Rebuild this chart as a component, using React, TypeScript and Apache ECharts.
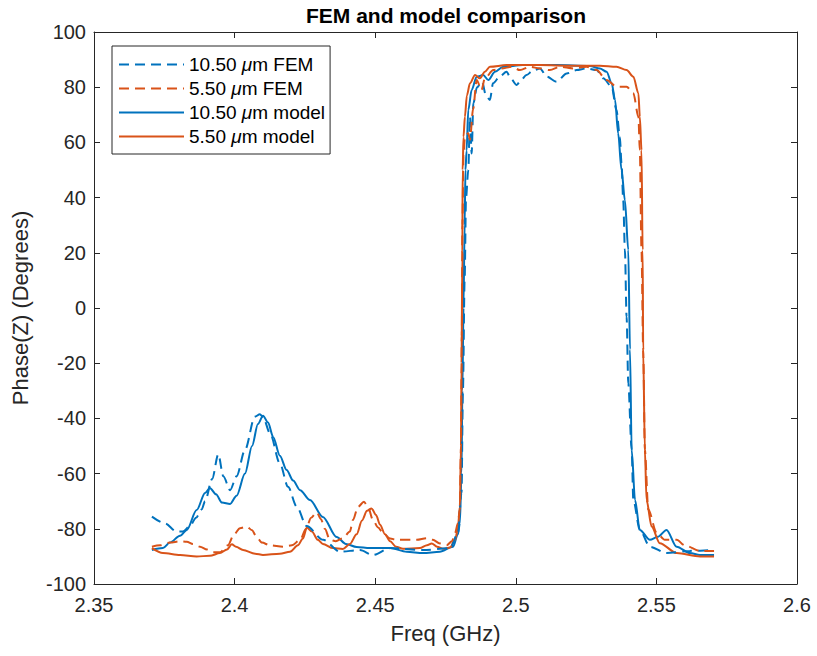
import React, { useEffect, useRef } from "react";
import * as echarts from "echarts";

const seriesNames = ["10.50 μm FEM", "5.50 μm FEM", "10.50 μm model", "5.50 μm model"];

const fem105Freq = [2.3706, 2.3752, 2.3794, 2.3816, 2.3841, 2.3863, 2.3883, 2.3895, 2.392, 2.3942, 2.396, 2.3984, 2.4007, 2.4037, 2.4072, 2.409, 2.4101, 2.4126, 2.4161, 2.419, 2.4221, 2.4256, 2.4315, 2.4375, 2.4446, 2.4492, 2.4553, 2.467, 2.4766, 2.4794, 2.4807, 2.4812, 2.4818, 2.4823, 2.4831, 2.4837, 2.4843, 2.4849, 2.4862, 2.488, 2.4894, 2.4908, 2.4919, 2.4944, 2.4967, 2.4983, 2.5003, 2.5018, 2.5038, 2.5061, 2.5086, 2.511, 2.5145, 2.5181, 2.5216, 2.5252, 2.5287, 2.5311, 2.5341, 2.5358, 2.537, 2.5376, 2.5382, 2.5388, 2.5394, 2.54, 2.5412, 2.5418, 2.5441, 2.5477, 2.5536, 2.5619, 2.5705];
const fem105Phase = [-75.6, -78, -81, -81, -79, -76, -73, -70, -62, -53, -61, -66, -61, -51.4, -39.4, -38.5, -39.5, -45.4, -56.3, -64.8, -72, -79, -84, -88.3, -87.7, -89.5, -87, -87.7, -87, -81.7, -67, -30, 10, 40, 50, 69.3, 56, 74.2, 80, 82, 77, 75.4, 81.4, 84, 85.6, 83, 80.8, 82.5, 84.4, 86, 86.8, 83.8, 82, 85, 86.2, 86.8, 86.2, 83.2, 80.2, 71.7, 62, 52.4, 39, 21, -3.2, -27.3, -51.4, -69.6, -80.4, -86.5, -88.8, -88, -87.7];

const fem55Freq = [2.3706, 2.3735, 2.377, 2.3806, 2.383, 2.3852, 2.3877, 2.3902, 2.3924, 2.3948, 2.3976, 2.3998, 2.4019, 2.4043, 2.4062, 2.4078, 2.4097, 2.4126, 2.4172, 2.4204, 2.4233, 2.4254, 2.4272, 2.4292, 2.4307, 2.4321, 2.4339, 2.436, 2.4385, 2.441, 2.4421, 2.4439, 2.446, 2.4474, 2.4492, 2.451, 2.4528, 2.4553, 2.4576, 2.4648, 2.4683, 2.4705, 2.473, 2.4754, 2.4773, 2.4784, 2.4794, 2.4801, 2.4805, 2.4808, 2.481, 2.4814, 2.4819, 2.4831, 2.4837, 2.4848, 2.4861, 2.4878, 2.489, 2.492, 2.495, 2.4985, 2.5015, 2.505, 2.5086, 2.5121, 2.5157, 2.5204, 2.5252, 2.5287, 2.5323, 2.5358, 2.5394, 2.5418, 2.5436, 2.5441, 2.5447, 2.5453, 2.5459, 2.5471, 2.5501, 2.553, 2.5572, 2.5601, 2.5655, 2.5705];
const fem55Phase = [-86.5, -86, -85, -84.5, -84.7, -85.5, -86.5, -87.5, -88.5, -88.5, -86, -82, -79.8, -79.2, -80.5, -82.9, -85, -86, -86.5, -86, -84, -80, -76, -74, -76.5, -80, -84, -84.5, -83.4, -81, -76.8, -72, -70.2, -72, -76.8, -79.5, -81.6, -83.5, -84, -84, -83.4, -84, -85.3, -86, -84.5, -81.6, -78, -73, -50, -10, 30, 55, 62, 63.3, 61, 72, 82.6, 79, 83.2, 86.2, 86.8, 87.4, 86.2, 87.4, 86.8, 86.2, 87.4, 86.8, 87.4, 86.2, 82.6, 80.2, 80.2, 77.8, 69.3, 57.2, 21, -15, -51.4, -73, -81.5, -84, -84, -86, -88, -88];

const model105Freq = [2.3706, 2.3745, 2.377, 2.3806, 2.383, 2.3865, 2.3895, 2.3912, 2.3934, 2.3955, 2.3984, 2.4007, 2.4037, 2.4062, 2.4083, 2.4101, 2.4119, 2.4137, 2.4161, 2.4185, 2.4208, 2.4233, 2.4268, 2.4314, 2.4363, 2.4396, 2.4434, 2.4481, 2.4553, 2.4612, 2.467, 2.473, 2.4777, 2.4794, 2.4801, 2.4807, 2.481, 2.4814, 2.4818, 2.4821, 2.4825, 2.4831, 2.4843, 2.4861, 2.4884, 2.4902, 2.4926, 2.4955, 2.5025, 2.5145, 2.5264, 2.5299, 2.5323, 2.5341, 2.5353, 2.5364, 2.5376, 2.5388, 2.54, 2.5406, 2.5412, 2.5424, 2.5441, 2.5477, 2.5505, 2.5536, 2.5572, 2.5619, 2.5655, 2.5705];
const model105Phase = [-87.7, -87, -85, -82.5, -80.4, -73.2, -67, -65.2, -67.5, -70.5, -71, -68, -60, -50, -42, -39, -41.5, -46.7, -53.5, -58.7, -62.5, -66, -69.6, -75.7, -83, -85.5, -86.6, -87, -87, -88.3, -88.8, -88.3, -86.5, -82, -78, -60, -30, 0, 30, 50, 57, 71.7, 79, 83.8, 84.4, 82.6, 85.6, 87.4, 88, 88, 87.7, 86.8, 85.6, 81.4, 75.4, 63.3, 50, 39, 21, -15, -51.4, -69.6, -80.4, -84, -82.9, -80.4, -86.5, -88.8, -89.5, -89.5];

const model55Freq = [2.3706, 2.3745, 2.3806, 2.3865, 2.3912, 2.3948, 2.3973, 2.399, 2.4005, 2.403, 2.4073, 2.4101, 2.4161, 2.4197, 2.4225, 2.4243, 2.4257, 2.4275, 2.4296, 2.4314, 2.435, 2.4385, 2.441, 2.4434, 2.4453, 2.4471, 2.4487, 2.4503, 2.4517, 2.4535, 2.4553, 2.4574, 2.4599, 2.4659, 2.4684, 2.4701, 2.472, 2.4741, 2.4766, 2.4784, 2.4794, 2.4801, 2.4805, 2.4807, 2.481, 2.4811, 2.4814, 2.4819, 2.4826, 2.4837, 2.4855, 2.4872, 2.489, 2.4908, 2.4967, 2.5086, 2.5203, 2.5299, 2.5358, 2.5394, 2.5418, 2.5436, 2.5441, 2.5447, 2.5451, 2.5453, 2.5459, 2.5465, 2.5483, 2.5512, 2.5572, 2.5655, 2.5705];
const model55Phase = [-87, -88.8, -89.5, -90, -89.8, -88.8, -87.5, -85.6, -86.5, -87.7, -89, -89.5, -89, -88.3, -86, -83.5, -79.5, -81, -84, -85.5, -87, -87.3, -85.5, -82, -77, -73.5, -72.6, -75, -78.5, -82, -84.5, -86.5, -87.2, -87, -86, -85.3, -86.5, -87.2, -86.8, -84, -80, -72, -50, -20, 20, 50, 62, 69.3, 77, 81.4, 84.4, 83.2, 85.6, 87.4, 88, 88, 87.8, 87.8, 87.4, 86.2, 83.8, 77.8, 69.3, 57.2, 21, -15.2, -51.4, -69.6, -79.2, -85.2, -88.8, -90, -90];

const BLUE = "#0072BD";
const RED = "#D95319";
const AXIS = "#262626";
const FONT = "'Liberation Sans', Arial, Helvetica, sans-serif";

function pairs(f: number[], v: number[]) {
  return f.map((x, i) => [x, v[i]]);
}

export default function App() {
  const ref = useRef<HTMLDivElement>(null);
  useEffect(() => {
    if (!ref.current) return;
    const chart = echarts.init(ref.current, null, { renderer: "svg" });
    const lineSeries = (name: string, data: number[][], color: string, dashed: boolean) => ({
      name,
      type: "line",
      data,
      showSymbol: false,
      symbol: "none",
      smooth: 0.3,
      smoothMonotone: "x",
      xAxisIndex: 0,
      yAxisIndex: 0,
      lineStyle: { color, width: 2, type: dashed ? [10, 6] : "solid" },
      itemStyle: { color },
      z: dashed ? 3 : 2,
    });
    chart.setOption({
      animation: false,
      backgroundColor: "#ffffff",
      textStyle: { fontFamily: FONT },
      title: {
        text: "FEM and model comparison",
        left: 441,
        textAlign: "center",
        top: 0,
        textStyle: { fontFamily: FONT, fontWeight: "bold", fontSize: 21, color: "#000" },
      },
      grid: { left: 94, right: 20, top: 32, bottom: 72, containLabel: false },
      legend: {
        orient: "vertical",
        left: 112,
        top: 46,
        data: seriesNames,
        itemWidth: 65,
        itemHeight: 20,
        itemGap: 5,
        padding: [9, 5, 8, 6],
        borderColor: AXIS,
        borderWidth: 1,
        borderRadius: 0,
        backgroundColor: "#ffffff",
        itemStyle: { opacity: 0 },
        formatter: (name: string) => name.replace("μ", "{i|μ}"),
        textStyle: {
          fontFamily: FONT,
          fontSize: 19,
          color: "#000",
          rich: { i: { fontStyle: "italic", fontFamily: FONT, fontSize: 19, color: "#000" } },
        },
      },
      xAxis: [
        {
          type: "value",
          min: 2.35,
          max: 2.6,
          interval: 0.05,
          name: "Freq (GHz)",
          nameLocation: "middle",
          nameGap: 38,
          nameTextStyle: { fontFamily: FONT, fontSize: 22, color: AXIS },
          axisLine: { onZero: false, lineStyle: { color: AXIS, width: 1 } },
          axisTick: { inside: true, length: 6, lineStyle: { color: AXIS } },
          axisLabel: {
            fontFamily: FONT,
            fontSize: 20,
            color: AXIS,
            margin: 11,
            formatter: (v: number) => String(+v.toFixed(2)),
          },
          splitLine: { show: false },
        },
        {
          type: "value",
          position: "top",
          min: 2.35,
          max: 2.6,
          interval: 0.05,
          axisLine: { onZero: false, lineStyle: { color: AXIS, width: 1 } },
          axisTick: { inside: true, length: 6, lineStyle: { color: AXIS } },
          axisLabel: { show: false },
          splitLine: { show: false },
        },
      ],
      yAxis: [
        {
          type: "value",
          min: -100,
          max: 100,
          interval: 20,
          name: "Phase(Z) (Degrees)",
          nameLocation: "middle",
          nameGap: 63,
          nameTextStyle: { fontFamily: FONT, fontSize: 22, color: AXIS },
          axisLine: { onZero: false, lineStyle: { color: AXIS, width: 1 } },
          axisTick: { inside: true, length: 6, lineStyle: { color: AXIS } },
          axisLabel: { fontFamily: FONT, fontSize: 20, color: AXIS, margin: 8 },
          splitLine: { show: false },
        },
        {
          type: "value",
          position: "right",
          min: -100,
          max: 100,
          interval: 20,
          axisLine: { onZero: false, lineStyle: { color: AXIS, width: 1 } },
          axisTick: { inside: true, length: 6, lineStyle: { color: AXIS } },
          axisLabel: { show: false },
          splitLine: { show: false },
        },
      ],
      series: [
        lineSeries(seriesNames[0], pairs(fem105Freq, fem105Phase), BLUE, true),
        lineSeries(seriesNames[1], pairs(fem55Freq, fem55Phase), RED, true),
        lineSeries(seriesNames[2], pairs(model105Freq, model105Phase), BLUE, false),
        lineSeries(seriesNames[3], pairs(model55Freq, model55Phase), RED, false),
      ],
    });
    return () => chart.dispose();
  }, []);
  return <div ref={ref} style={{ width: 817, height: 656, position: "absolute", left: 0, top: 0 }} />;
}
